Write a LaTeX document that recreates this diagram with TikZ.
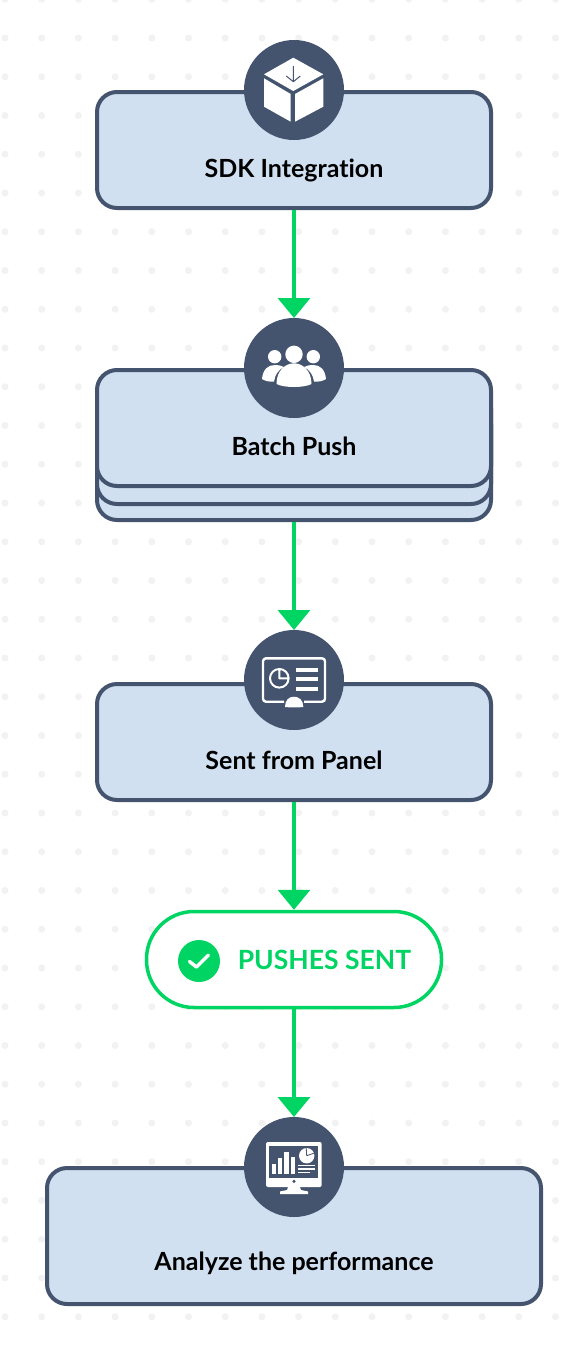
\documentclass[tikz,border=0pt]{standalone}
\usepackage{fontspec}
\setmainfont{Lato}[Ligatures=NoCommon]
\usetikzlibrary{arrows.meta}
\definecolor{slatenavy}{HTML}{44546F}
\definecolor{cardblue}{HTML}{D0E0F0}
\definecolor{flowgreen}{HTML}{00D563}
\definecolor{dotgray}{HTML}{F2F2F2}
\tikzset{
	cardbox/.style={draw=slatenavy,fill=cardblue,line width=4pt,rounded corners=20pt,minimum width=394pt,minimum height=116pt},
	iconbadge/.style={circle,fill=slatenavy,minimum size=100pt,inner sep=0pt,outer sep=0pt},
	cardtext/.style={font=\fontsize{25}{30}\selectfont\bfseries,text=black,inner sep=0pt,anchor=base},
	flowarrow/.style={draw=flowgreen,line width=3.5pt,-{Triangle[width=32pt,length=20pt]}},
}
\begin{document}
\begin{tikzpicture}[x=1pt,y=-1pt,line join=round]
	\useasboundingbox (0,0) rectangle (588,1350);
	\clip (0,0) rectangle (588,1350);
	\fill[white] (0,0) rectangle (588,1350);
	\foreach \i in {0,...,15} \foreach \j in {0,...,34} \fill[dotgray] ({5+36.7*\i},{-0.75+38.75*\j}) circle (3.5pt);
	\foreach \n/\y in {stackC/462,stackB/446} \node[cardbox] (\n) at (294,\y) {};
	\node[cardbox] (card1) at (294,150) {};
	\node[cardbox] (card2) at (294,428) {};
	\node[cardbox] (card3) at (294,742) {};
	\node[cardbox,minimum width=494pt,minimum height=136pt] (card4) at (294,1236) {};
	\foreach \n/\y/\t in {card1/177.3/SDK Integration,card2/455.3/Batch Push,card3/769.3/Sent from Panel,card4/1270.3/Analyze the performance} \node[cardtext] (\n text) at (294,\y) {\t};
	\foreach \n/\y in {icon1/90,icon2/368,icon3/680,icon4/1167} \node[iconbadge] (\n) at (294,\y) {};
	\node[draw=flowgreen,fill=white,line width=3.5pt,rounded corners=47.5pt,minimum width=295pt,minimum height=96pt] (sent) at (294,959.5) {};
	\node[circle,fill=flowgreen,minimum size=42pt,inner sep=0pt] (sentcheck) at (199,961) {};
	\node[cardtext,text=flowgreen,font=\fontsize{26.5}{30}\selectfont\bfseries] (senttext) at (324.5,969.3) {PUSHES SENT};
	\draw[white,line width=3.5pt,line cap=round] ([shift={(-9.5,0.5)}]sentcheck.center)--([shift={(-2.5,6)}]sentcheck.center)--([shift={(9.5,-6)}]sentcheck.center);
	\draw[flowarrow] (card1.south)--(icon2.north);
	\draw[flowarrow] (stackC.south)--(icon3.north);
	\draw[flowarrow] (card3.south)--(sent.north);
	\draw[flowarrow] (sent.south)--(icon4.north);
	\begin{scope}[shift={(icon1.center)}]
		\fill[white] (-0.7,-32.3)--(29.3,-15.7)--(-0.7,1)--(-30,-15.7)--cycle;
		\fill[white] (-30,-11.7)--(-3.3,4)--(-3.3,31.7)--(-30,16.7)--cycle;
		\fill[white] (1,4)--(29.3,-11.7)--(29.3,16.7)--(1,31.7)--cycle;
		\draw[slatenavy,line width=1pt] (-0.7,-24)--(-0.7,-8.3) (-7.7,-14)--(-0.7,-8.3)--(6.3,-14);
	\end{scope}
	\begin{scope}[shift={(icon2.center)}]
		\fill[white] (0,-13.7) circle (8.7pt);
		\foreach \s in {-1,1}{
			\begin{scope}[xscale=\s]
				\fill[white] (19.3,-11.3) circle (6.7pt);
				\fill[white] (32,11)..controls (31,1) and (26,-3)..(19,-3)..controls (15,-3) and (12,-2)..(10,-1)..controls (16,2) and (19,7)..(20,13.5)..controls (25,14) and (29,13)..(32,11)--cycle;
			\end{scope}
		}
		\fill[white] (-17.5,16)..controls (-17.5,2) and (-8,-4.7)..(0,-4.7)..controls (8,-4.7) and (17.5,2)..(17.5,16)..controls (10,20) and (-10,20)..(-17.5,16)--cycle;
	\end{scope}
	\begin{scope}[shift={(icon3.center)}]
		\draw[white,line width=2.4pt,rounded corners=3pt] (-10,21.7)--(-31,21.7)--(-31,-21.7)--(31,-21.7)--(31,21.7)--(10,21.7);
		\draw[white,line width=2pt] (-14.7,-1.7) circle (9.3pt) (-14.7,-11)--(-14.7,-1.7)--(-5.4,-1.7);
		\foreach \y in {-10,-0.7,9} \draw[white,line width=4.3pt] (2,\y)--(23.7,\y);
		\fill[white] (-9,27)..controls (-9,20) and (-5,16.7)..(0,16.7)..controls (5,16.7) and (9.3,20)..(9.3,27)..controls (5,27.5) and (-5,27.5)..(-9,27)--cycle;
	\end{scope}
	\begin{scope}[shift={(icon4.center)}]
		\fill[white,rounded corners=2pt] (-28,-25) rectangle (27.7,20);
		\fill[slatenavy] (-24.7,-21.3) rectangle (24.3,11.3);
		\fill[slatenavy] (0,14.3) circle (1.7pt);
		\fill[white] (-6,20)--(6,20)--(7,23)--(14,24.5)--(14,27)--(-14,27)--(-14,24.5)--(-7,23)--cycle;
		\foreach \a/\b/\c in {-22.3/-18/-3,-16.3/-11.7/-8.7,-9.7/-5/-15.3,-3.3/1.3/-9.7} \fill[white] (\a,\c) rectangle (\b,7);
		\fill[white] (12.7,-11.3) circle (7.7pt);
		\draw[slatenavy,line width=0.8pt] (12.2,-19.5)--(12.7,-11.3)--(20.5,-14);
		\foreach \y/\e in {-1.3/21,2/21,5.7/16} \draw[white,line width=1.3pt] (4.3,\y)--(\e,\y);
	\end{scope}
\end{tikzpicture}
\end{document}
